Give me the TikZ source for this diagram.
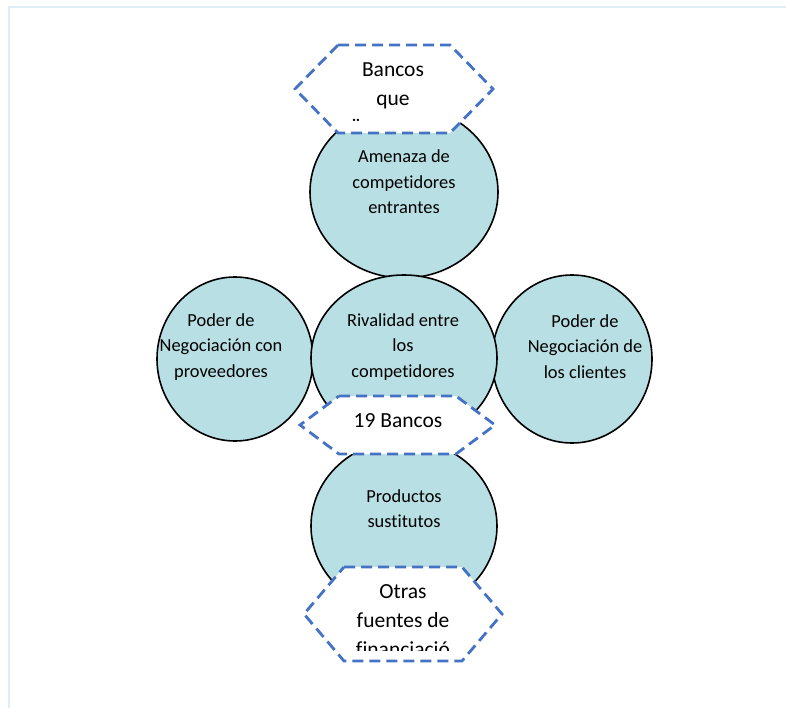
\documentclass[tikz,border=0pt]{standalone}
\usepackage{fontspec}
\setmainfont{Carlito}[Ligatures={NoCommon}]
\usetikzlibrary{shapes.geometric}
\definecolor{circfill}{HTML}{B8DFE3}
\definecolor{hexblue}{HTML}{4472C4}
\definecolor{framec}{HTML}{DDEEF7}
\begin{document}
\begin{tikzpicture}[x=1pt,y=-1pt,
  circ/.style={ellipse, draw=black, line width=1.6pt, fill=circfill, inner sep=0pt},
  hexa/.style={draw=hexblue, line width=2.8pt, dash pattern=on 11pt off 6pt, fill=white, line join=miter},
  ctext/.style={align=center, font=\fontsize{18.4}{25.5}\selectfont, inner sep=0pt, text=black},
  htext/.style={align=center, font=\fontsize{21.5}{29}\selectfont, inner sep=0pt, text=black}]
\useasboundingbox (0,0) rectangle (786,708);
% frame
\draw[framec, line width=2pt] (9,708) -- (9,7) -- (786,7);
% circles
\node[circ, minimum width=188pt, minimum height=172pt] (top) at (404,192) {};
\node[circ, minimum width=156pt, minimum height=164pt] (left) at (235,359) {};
\node[circ, minimum width=160pt, minimum height=168pt] (right) at (572,359) {};
\node[circ, minimum width=186pt, minimum height=166pt] (mid) at (404,358) {};
\node[circ, minimum width=186pt, minimum height=172pt] (bot) at (404,526) {};
\node[ctext] (toptxt) at (404,182) {Amenaza de\\competidores\\entrantes};
\node[ctext] (lefttxt) at (221,347) {Poder de\\Negociación con\\proveedores};
\node[ctext] (midtxt) at (403,347) {Rivalidad entre\\los\\competidores};
\node[ctext] (righttxt) at (585,346.5) {Poder de\\Negociación de\\los clientes};
\node[ctext] (bottxt) at (404,508.5) {Productos\\sustitutos};
% hexagons
\draw[hexa] (338,45) -- (450,45) -- (493,89) -- (450,133) -- (338,133) -- (295,89) -- cycle;
\node[htext] (hextop) at (393,86) {Bancos\\que};
\begin{scope}
\clip (300,45) rectangle (490,126);
\node[htext, anchor=base] (hextopcut) at (356,134) {¨};
\end{scope}
\draw[hexa] (339,396) -- (456,396) -- (495,425) -- (456,454) -- (339,454) -- (300,425) -- cycle;
\node[htext] (hexmid) at (398,420.6) {19 Bancos};
\draw[hexa] (344,567) -- (462,567) -- (502,614) -- (462,661) -- (344,661) -- (304,614) -- cycle;
\begin{scope}
\clip (310,567) rectangle (495,650);
\node[htext] (hexbot) at (403,620.2) {Otras\\fuentes de\\financiació};
\end{scope}
\end{tikzpicture}
\end{document}
